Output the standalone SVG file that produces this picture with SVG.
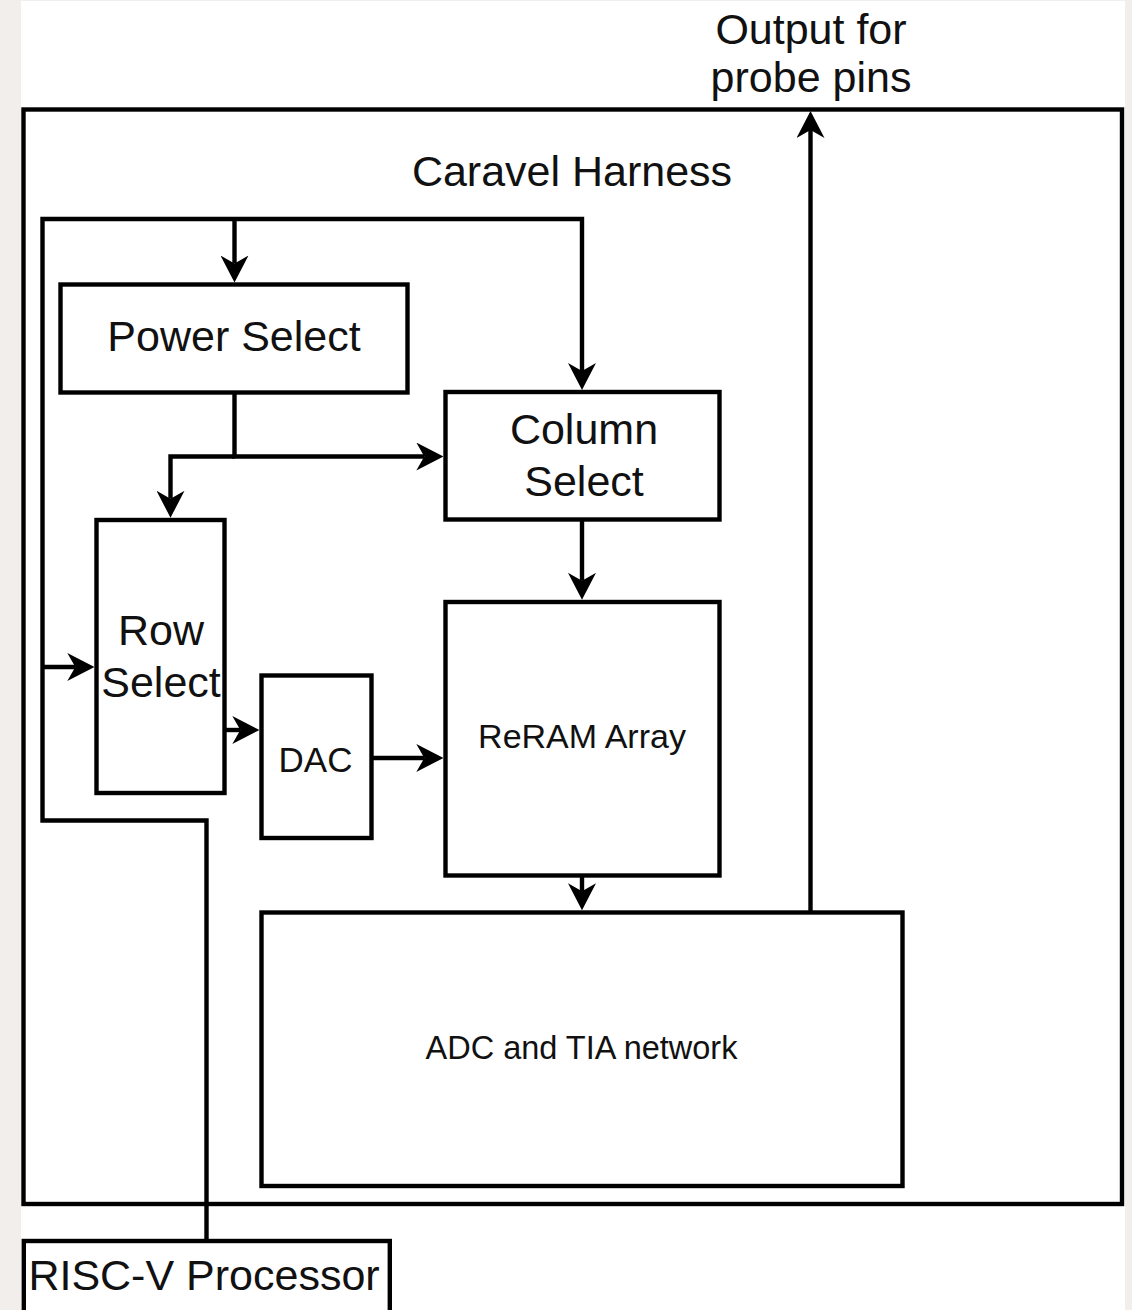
<svg xmlns="http://www.w3.org/2000/svg" width="1132" height="1310" viewBox="0 0 1132 1310">
  <style>
    .box { fill: #ffffff; stroke: #000000; stroke-width: 4.4; }
    .wire { fill: none; stroke: #000000; stroke-width: 4.4; stroke-linejoin: miter; }
    .lbl { font-family: "Liberation Sans", Arial, sans-serif; fill: #111111; text-anchor: middle; }
    .big { font-size: 43px; }
  </style>
  <defs>
    <marker id="arrow" viewBox="0 -14 27 28" refX="8" refY="0" markerWidth="27" markerHeight="28" markerUnits="userSpaceOnUse" orient="auto">
      <path d="M27,0 L0,-14 L8,0 L0,14 Z" fill="#000000"/>
    </marker>
  </defs>

  <rect x="0" y="0" width="1132" height="1310" fill="#f2eeeb"/>
  <rect x="21" y="1" width="1104" height="1309" fill="#ffffff"/>

  <g id="caravel-harness">
    <rect class="box" x="23.5" y="109.5" width="1098.5" height="1094.5"/>
    <text class="lbl big" x="572" y="186">Caravel Harness</text>
  </g>

  <g id="output-label">
    <text class="lbl big" x="811" y="44">Output for</text>
    <text class="lbl big" x="811" y="92">probe pins</text>
  </g>

  <g id="power-select">
    <rect class="box" x="60.5" y="284.5" width="347" height="108"/>
    <text class="lbl big" x="234" y="351">Power Select</text>
  </g>

  <g id="column-select">
    <rect class="box" x="445.5" y="392" width="274" height="127.5"/>
    <text class="lbl big" x="584" y="444">Column</text>
    <text class="lbl big" x="584" y="496">Select</text>
  </g>

  <g id="row-select">
    <rect class="box" x="96.5" y="520" width="128" height="273"/>
    <text class="lbl big" x="161" y="645">Row</text>
    <text class="lbl big" x="161" y="697">Select</text>
  </g>

  <g id="dac">
    <rect class="box" x="261.5" y="675.5" width="110" height="162.5"/>
    <text class="lbl" x="315.5" y="772" font-size="35">DAC</text>
  </g>

  <g id="reram-array">
    <rect class="box" x="445.5" y="602" width="274" height="273.5"/>
    <text class="lbl" x="582" y="748" font-size="34">ReRAM Array</text>
  </g>

  <g id="adc-tia">
    <rect class="box" x="261.5" y="912.5" width="641" height="273.5"/>
    <text class="lbl" x="581.5" y="1059" font-size="32.5">ADC and TIA network</text>
  </g>

  <g id="risc-v">
    <rect class="box" x="23.8" y="1241" width="366" height="100"/>
    <text class="lbl big" x="204" y="1290">RISC-V Processor</text>
  </g>

  <g id="connectors">
    <path class="wire" d="M206.5,1239 L206.5,820.5 L42.5,820.5 L42.5,219 L582,219 L582,371" marker-end="url(#arrow)"/>
    <path class="wire" d="M234.5,219 L234.5,263.5" marker-end="url(#arrow)"/>
    <path class="wire" d="M42.5,667 L75.3,667" marker-end="url(#arrow)"/>
    <path class="wire" d="M234.5,392.5 L234.5,456.5 L424.3,456.5" marker-end="url(#arrow)"/>
    <path class="wire" d="M234.5,456.5 L170.5,456.5 L170.5,498.8" marker-end="url(#arrow)"/>
    <path class="wire" d="M224.5,730 L240.3,730" marker-end="url(#arrow)"/>
    <path class="wire" d="M371.5,758 L424.3,758" marker-end="url(#arrow)"/>
    <path class="wire" d="M582,519.5 L582,580.8" marker-end="url(#arrow)"/>
    <path class="wire" d="M582,875.5 L582,891.3" marker-end="url(#arrow)"/>
    <path class="wire" d="M810.5,912.5 L810.5,130" marker-end="url(#arrow)"/>
  </g>
</svg>
